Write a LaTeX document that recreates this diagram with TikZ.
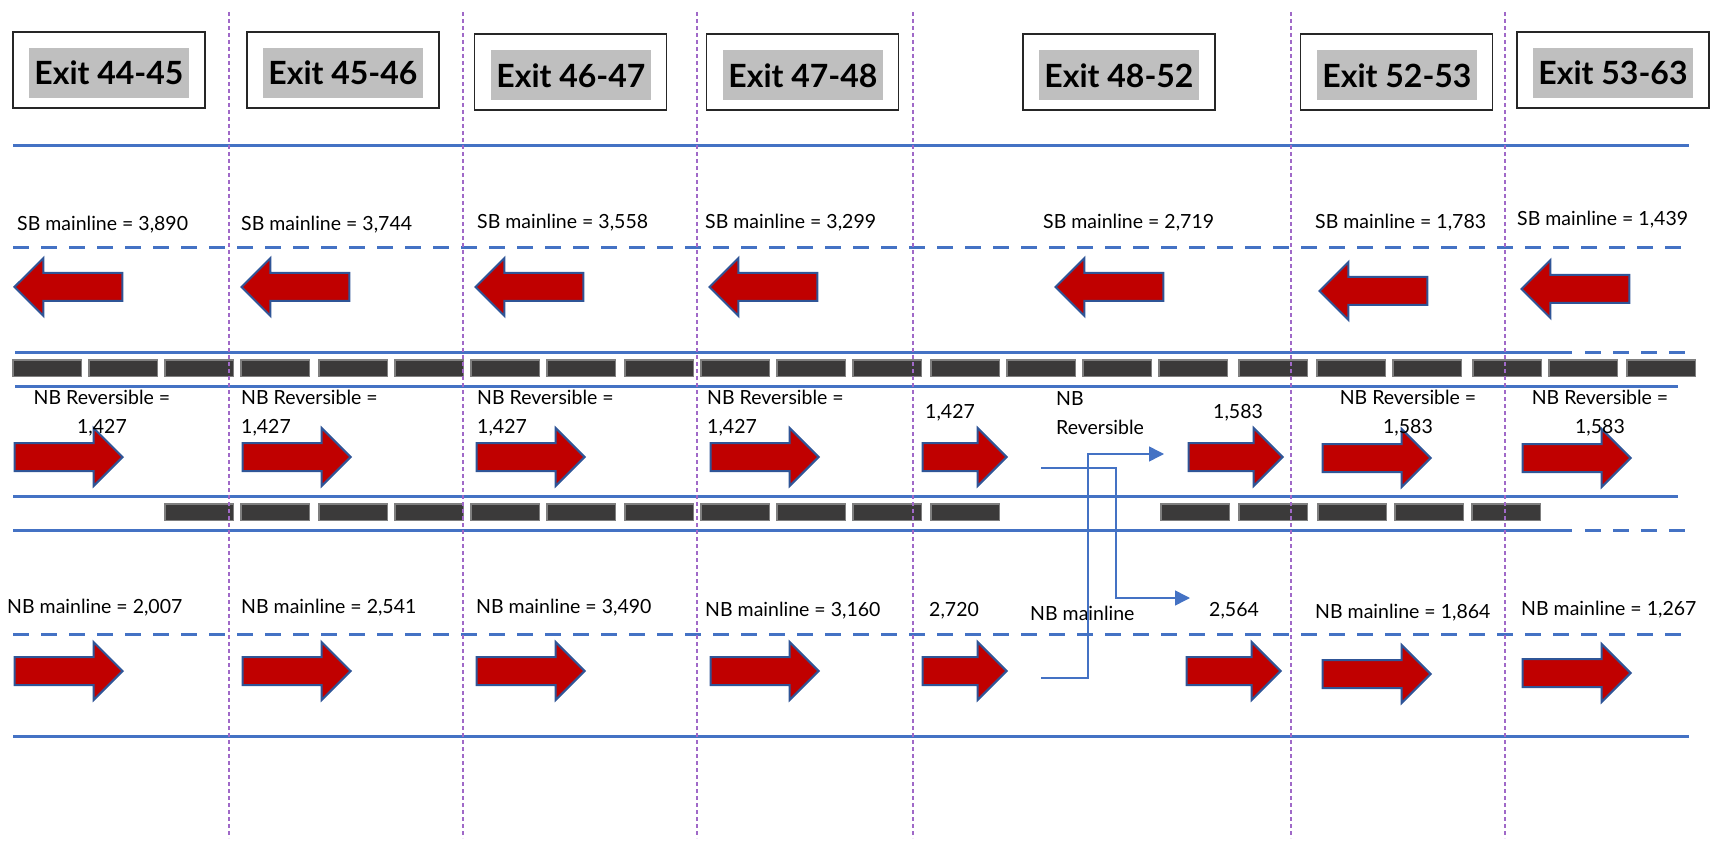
\documentclass[tikz,border=0pt]{standalone}
\usepackage{fontspec}
\setmainfont{Lato}
\usetikzlibrary{shapes.arrows}
\usetikzlibrary{arrows.meta}
\usetikzlibrary{positioning}

\definecolor{lanecol}{HTML}{4472C4}
\definecolor{sepcol}{RGB}{160,105,200}
\definecolor{arrowred}{HTML}{C00000}
\definecolor{arrowedge}{HTML}{2F5597}
\definecolor{barfill}{HTML}{3B3A3A}
\definecolor{baredge}{HTML}{7F7F7F}
\definecolor{exitgray}{HTML}{BFBFBF}

\begin{document}
\begin{tikzpicture}[x=1pt,y=-1pt,
      exitbox/.style = {draw=black!85, line width=1.2pt, minimum width=192pt,
         minimum height=76pt, inner sep=0pt},
      exitlabel/.style = {fill=exitgray, minimum width=160pt, minimum height=50pt,
         inner sep=0pt, font=\fontsize{32}{36}\selectfont\bfseries},
      lane/.style = {lanecol, line width=3pt},
      lanedash/.style = {lane, dash pattern=on 16pt off 12pt},
      exitsep/.style = {sepcol, line width=1.6pt, dash pattern=on 4pt off 3pt},
      barrier/.style = {fill=barfill, draw=baredge, line width=1.5pt,
         minimum width=68.5pt, minimum height=16.5pt, inner sep=0pt},
      flow/.style = {single arrow, fill=arrowred, draw=arrowedge, line width=2pt,
         inner xsep=0pt, inner ysep=13pt, single arrow head extend=15pt,
         minimum height=108pt, anchor=tip},
      sbflow/.style = {flow, shape border rotate=180},
      volume/.style = {inner sep=0pt, anchor=west, font=\fontsize{19.5}{29}\selectfont},
      swap/.style = {lanecol, line width=1.5pt, -{Triangle[length=15pt,width=15pt]}}]

   \useasboundingbox (0,0) rectangle (1716,842);

   % exit signs
   \node[exitbox]   (ex1)  at (109,70)    {};
   \node[exitlabel] (ex1l) at (109,73)    {Exit 44-45};
   \node[exitbox]   (ex2)  at (343,70)    {};
   \node[exitlabel] (ex2l) at (343,73)    {Exit 45-46};
   \node[exitbox]   (ex3)  at (570.5,72)  {};
   \node[exitlabel] (ex3l) at (571,75.5)  {Exit 46-47};
   \node[exitbox]   (ex4)  at (802.5,72)  {};
   \node[exitlabel] (ex4l) at (803,75.5)  {Exit 47-48};
   \node[exitbox]   (ex5)  at (1119,72)   {};
   \node[exitlabel] (ex5l) at (1119,75.5) {Exit 48-52};
   \node[exitbox]   (ex6)  at (1396.5,72) {};
   \node[exitlabel] (ex6l) at (1397,75.5) {Exit 52-53};
   \node[exitbox]   (ex7)  at (1613,70)   {};
   \node[exitlabel] (ex7l) at (1613,73)   {Exit 53-63};

   % lane lines
   \draw[lane]     (13,146) -- (1689,146);
   \draw[lanedash] (13,248) -- (1682,248);
   \draw[lane]     (15,352) -- (1572,352);
   \draw[lanedash] (1585,352) -- (1685,352);
   \draw[lane]     (15,386) -- (1678,386);
   \draw[lane]     (13,496) -- (1678,496);
   \draw[lane]     (13,530) -- (1572,530);
   \draw[lanedash] (1585,530) -- (1685,530);
   \draw[lanedash] (13,634) -- (1682,634);
   \draw[lane]     (13,736) -- (1689,736);

   % upper barrier
   \node[barrier, anchor=west] (b1) at (12,368) {};
   \node[barrier, right=6pt of b1]   (b2)  {};
   \node[barrier, right=6pt of b2]   (b3)  {};
   \node[barrier, right=6pt of b3]   (b4)  {};
   \node[barrier, right=8pt of b4]   (b5)  {};
   \node[barrier, right=6pt of b5]   (b6)  {};
   \node[barrier, right=6pt of b6]   (b7)  {};
   \node[barrier, right=6pt of b7]   (b8)  {};
   \node[barrier, right=8pt of b8]   (b9)  {};
   \node[barrier, right=6pt of b9]   (b10) {};
   \node[barrier, right=6pt of b10]  (b11) {};
   \node[barrier, right=6pt of b11]  (b12) {};
   \node[barrier, right=8pt of b12]  (b13) {};
   \node[barrier, right=6pt of b13]  (b14) {};
   \node[barrier, right=6pt of b14]  (b15) {};
   \node[barrier, right=6pt of b15]  (b16) {};
   \node[barrier, right=10pt of b16] (b17) {};
   \node[barrier, right=8pt of b17]  (b18) {};
   \node[barrier, right=6pt of b18]  (b19) {};
   \node[barrier, right=10pt of b19] (b20) {};
   \node[barrier, right=6pt of b20]  (b21) {};
   \node[barrier, right=8pt of b21]  (b22) {};

   % lower barrier
   \node[barrier, anchor=west] (c1) at (164,512) {};
   \node[barrier, right=6pt of c1]   (c2)  {};
   \node[barrier, right=8pt of c2]   (c3)  {};
   \node[barrier, right=6pt of c3]   (c4)  {};
   \node[barrier, right=6pt of c4]   (c5)  {};
   \node[barrier, right=6pt of c5]   (c6)  {};
   \node[barrier, right=8pt of c6]   (c7)  {};
   \node[barrier, right=6pt of c7]   (c8)  {};
   \node[barrier, right=6pt of c8]   (c9)  {};
   \node[barrier, right=6pt of c9]   (c10) {};
   \node[barrier, right=8pt of c10]  (c11) {};
   \node[barrier, anchor=west] (c12) at (1160,512) {};
   \node[barrier, right=8pt of c12]  (c13) {};
   \node[barrier, right=9pt of c13]  (c14) {};
   \node[barrier, right=7pt of c14]  (c15) {};
   \node[barrier, right=7pt of c15]  (c16) {};

   % SB mainline
   \node[sbflow] (sa1) at (13,287)   {};
   \node[sbflow] (sa2) at (240,287)  {};
   \node[sbflow] (sa3) at (474,287)  {};
   \node[sbflow] (sa4) at (708,287)  {};
   \node[sbflow] (sa5) at (1054,287) {};
   \node[sbflow] (sa6) at (1318,291) {};
   \node[sbflow] (sa7) at (1520,289) {};

   \node[volume] (sv1) at (17,225)   {SB mainline = 3,890};
   \node[volume] (sv2) at (241,225)  {SB mainline = 3,744};
   \node[volume] (sv3) at (477,223)  {SB mainline = 3,558};
   \node[volume] (sv4) at (705,223)  {SB mainline = 3,299};
   \node[volume] (sv5) at (1043,223) {SB mainline = 2,719};
   \node[volume] (sv6) at (1315,223) {SB mainline = 1,783};
   \node[volume] (sv7) at (1517,220) {SB mainline = 1,439};

   % NB reversible
   \node[flow] (ra1) at (124,457)  {};
   \node[flow] (ra2) at (352,457)  {};
   \node[flow] (ra3) at (586,457)  {};
   \node[flow] (ra4) at (820,457)  {};
   \node[flow, minimum height=84pt] (ra5) at (1008,457) {};
   \node[flow, minimum height=94pt] (ra6) at (1284,457) {};
   \node[flow] (ra7) at (1432,458) {};
   \node[flow] (ra8) at (1632,458) {};

   \node[volume, anchor=center, align=center] (rv1) at (102,413.5) {NB Reversible =\\1,427};
   \node[volume, align=left] (rv2) at (241,413.5) {NB Reversible =\\1,427};
   \node[volume, align=left] (rv3) at (477,413.5) {NB Reversible =\\1,427};
   \node[volume, align=left] (rv4) at (707,413.5) {NB Reversible =\\1,427};
   \node[volume] (rv5) at (925,413) {1,427};
   \node[volume, align=left] (rv6) at (1056,413.5) {NB\\Reversible};
   \node[volume] (rv7) at (1213,413) {1,583};
   \node[volume, anchor=center, align=center] (rv8) at (1408,413.5) {NB Reversible =\\1,583};
   \node[volume, anchor=center, align=center] (rv9) at (1600,413.5) {NB Reversible =\\1,583};

   % NB mainline
   \node[flow] (na1) at (124,671)  {};
   \node[flow] (na2) at (352,671)  {};
   \node[flow] (na3) at (586,671)  {};
   \node[flow] (na4) at (820,671)  {};
   \node[flow, minimum height=84pt] (na5) at (1008,671) {};
   \node[flow, minimum height=94pt] (na6) at (1282,671) {};
   \node[flow] (na7) at (1432,674) {};
   \node[flow] (na8) at (1632,673) {};

   \node[volume] (nv1) at (7,608)    {NB mainline = 2,007};
   \node[volume] (nv2) at (241,608)  {NB mainline = 2,541};
   \node[volume] (nv3) at (476,608)  {NB mainline = 3,490};
   \node[volume] (nv4) at (705,611)  {NB mainline = 3,160};
   \node[volume] (nv5) at (929,611)  {2,720};
   \node[volume] (nv6) at (1030,613) {NB mainline};
   \node[volume] (nv7) at (1209,611) {2,564};
   \node[volume] (nv8) at (1315,613) {NB mainline = 1,864};
   \node[volume] (nv9) at (1521,610) {NB mainline = 1,267};

   % lane swap between 48 and 52
   \coordinate (mainfrom) at (1041,678);
   \coordinate (upturn)   at (1088,454);
   \coordinate (revto)    at (1164,454);
   \coordinate (revfrom)  at (1041,468);
   \coordinate (downturn) at (1116,598);
   \coordinate (mainto)   at (1190,598);
   \draw[swap] (mainfrom) -| (upturn) -- (revto);
   \draw[swap] (revfrom) -| (downturn) -- (mainto);

   % exit separators
   \draw[exitsep] (229,12) -- (229,838);
   \draw[exitsep] (463,12) -- (463,838);
   \draw[exitsep] (697,12) -- (697,838);
   \draw[exitsep] (913,12) -- (913,838);
   \draw[exitsep] (1291,12) -- (1291,838);
   \draw[exitsep] (1505,12) -- (1505,838);
\end{tikzpicture}
\end{document}
